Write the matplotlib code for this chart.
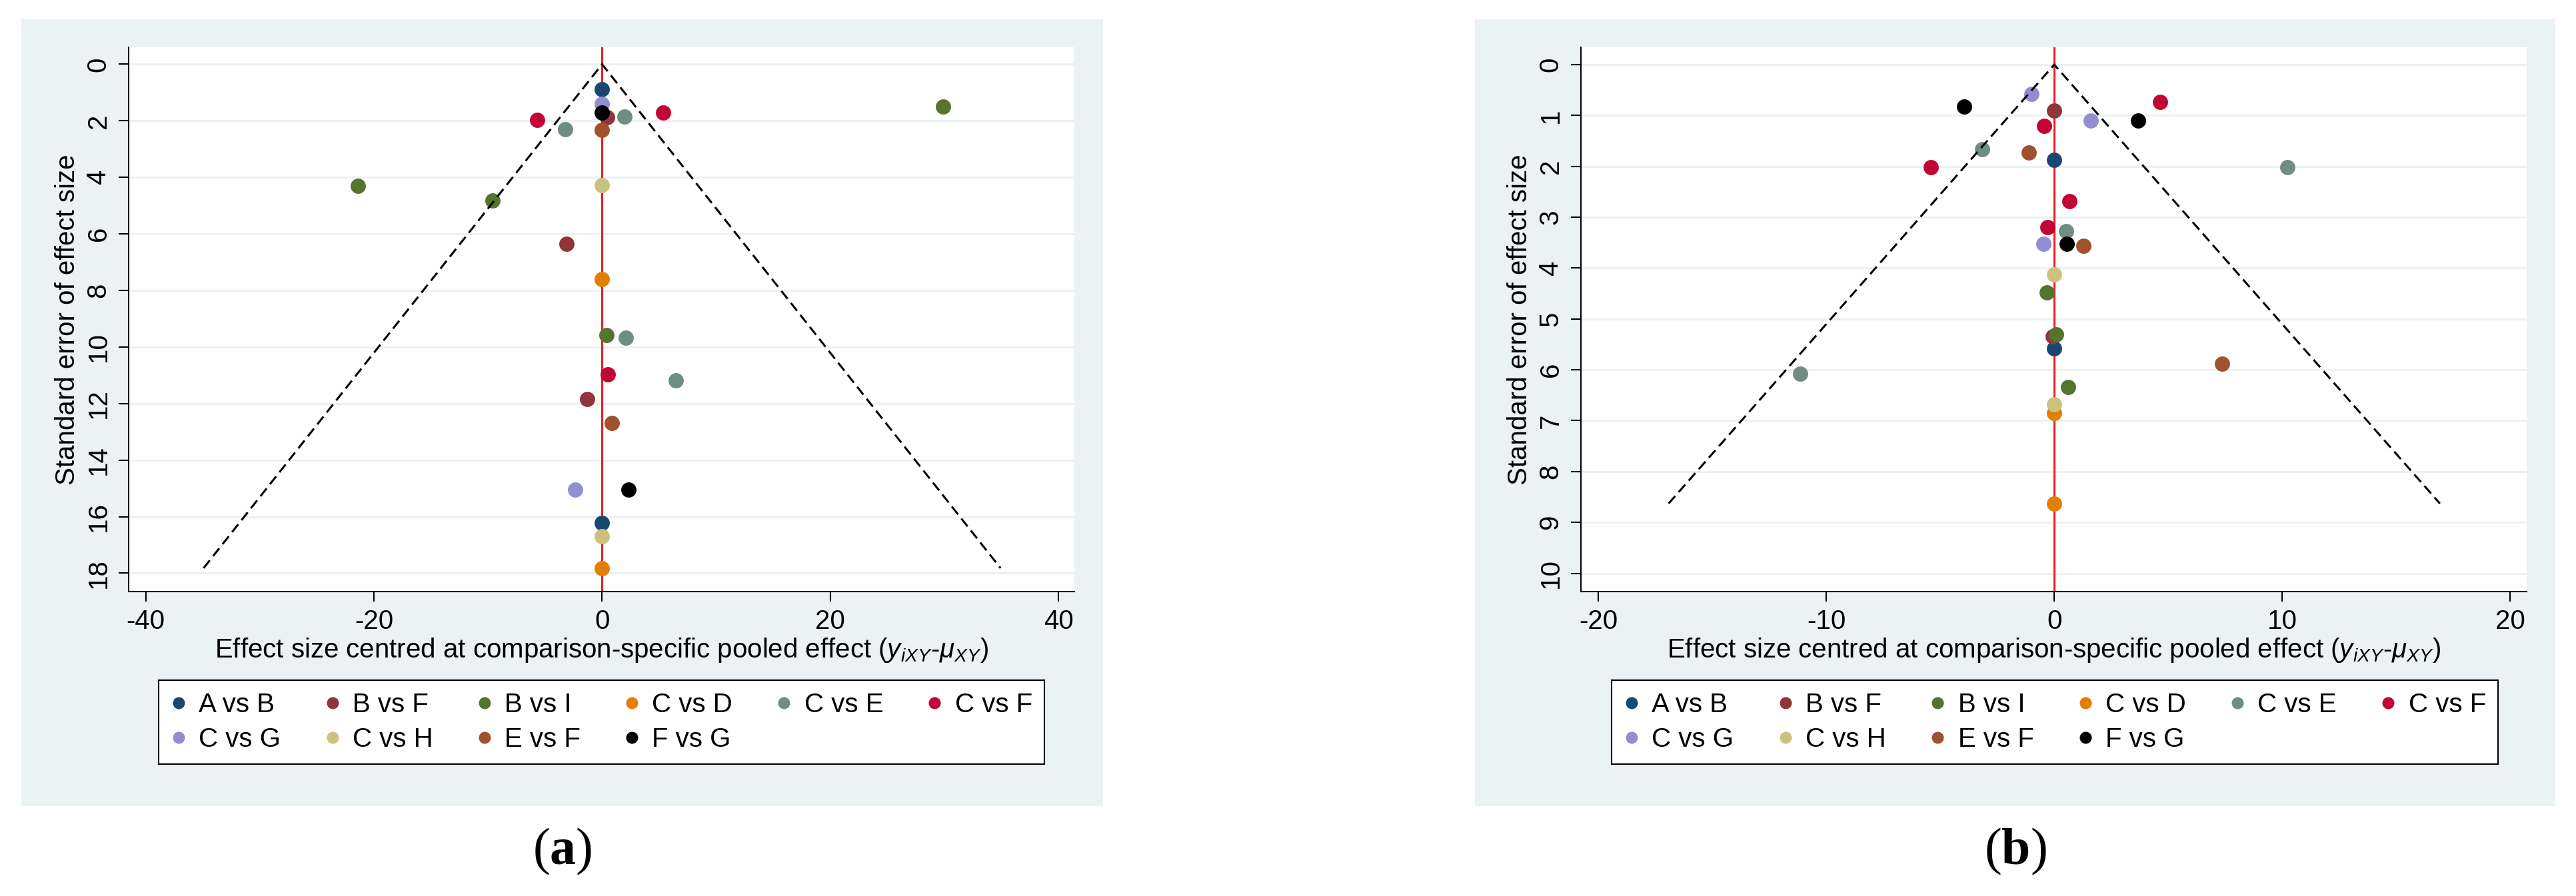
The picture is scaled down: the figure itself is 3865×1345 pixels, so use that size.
import numpy as np
import matplotlib
matplotlib.use("Agg")
import matplotlib.pyplot as plt
from matplotlib.lines import Line2D
from matplotlib.patches import Rectangle

plt.rcParams['font.family'] = ['Liberation Sans', 'DejaVu Sans']
plt.rcParams['mathtext.fontset'] = 'custom'
plt.rcParams['mathtext.rm'] = 'Liberation Sans'
plt.rcParams['mathtext.it'] = 'Liberation Sans:italic'
plt.rcParams['mathtext.bf'] = 'Liberation Serif:bold'

comparisons = ['A vs B', 'B vs F', 'B vs I', 'C vs D', 'C vs E',
               'C vs F', 'C vs G', 'C vs H', 'E vs F', 'F vs G']
colors = ['#1a476f', '#90353b', '#55752f', '#e37e00', '#6e8e84',
          '#c10534', '#938dd2', '#cac27e', '#a0522d', '#000000']

# panel (a): centred effect size (x) and standard error (y) per comparison
a_x = {
    'A vs B': [0.0, 0.0],
    'B vs F': [0.45, -3.1, -1.3],
    'B vs I': [29.9, -21.4, -9.6, 0.36],
    'C vs D': [0.0, 0.0],
    'C vs E': [1.95, -3.22, 2.09, 6.49],
    'C vs F': [5.36, -5.66, 0.5],
    'C vs G': [0.0, -2.38],
    'C vs H': [0.0, 0.0],
    'E vs F': [0.0, 0.86],
    'F vs G': [0.0, 2.31],
}
a_se = {
    'A vs B': [0.89, 16.22],
    'B vs F': [1.88, 6.35, 11.83],
    'B vs I': [1.50, 4.31, 4.83, 9.59],
    'C vs D': [7.60, 17.82],
    'C vs E': [1.86, 2.29, 9.67, 11.19],
    'C vs F': [1.72, 1.97, 10.98],
    'C vs G': [1.41, 15.05],
    'C vs H': [4.27, 16.69],
    'E vs F': [2.32, 12.70],
    'F vs G': [1.72, 15.05],
}

# panel (b)
b_x = {
    'A vs B': [0.0, 0.0],
    'B vs F': [0.0, -0.05],
    'B vs I': [-0.34, 0.08, 0.61],
    'C vs D': [0.0, 0.0],
    'C vs E': [-3.16, 10.23, 0.51, -11.14],
    'C vs F': [4.65, -0.44, -5.41, 0.66, -0.30],
    'C vs G': [-0.99, 1.60, -0.46],
    'C vs H': [0.0, 0.0],
    'E vs F': [-1.11, 1.29, 7.35],
    'F vs G': [-3.96, 3.68, 0.56],
}
b_se = {
    'A vs B': [1.87, 5.58],
    'B vs F': [0.90, 5.34],
    'B vs I': [4.48, 5.30, 6.34],
    'C vs D': [6.85, 8.63],
    'C vs E': [1.67, 2.02, 3.27, 6.08],
    'C vs F': [0.73, 1.20, 2.02, 2.68, 3.19],
    'C vs G': [0.58, 1.10, 3.52],
    'C vs H': [4.13, 6.68],
    'E vs F': [1.73, 3.56, 5.88],
    'F vs G': [0.83, 1.10, 3.52],
}

a_xticks = [-40, -20, 0, 20, 40]
a_yticks = list(range(0, 19, 2))
b_xticks = [-20, -10, 0, 10, 20]
b_yticks = list(range(0, 11))

W, H = 3865, 1345
fig = plt.figure(figsize=(W / 100, H / 100), dpi=100)
fig.patch.set_facecolor('white')

BG = '#eaf2f3'
FS = 29

def fx(px):
    return px / W

def fy(py):
    return 1 - py / H

# legend fills column by column; this order gives the row-wise layout
leg_order = [0, 6, 1, 7, 2, 8, 3, 9, 4, 5]

def panel(xs, ses, xticks, yticks, xlim, ylim, box, plot, leg, tag):
    bx0, bx1 = box
    fig.patches.append(Rectangle((fx(bx0), fy(1210)), fx(bx1 - bx0), (1210 - 29) / H,
                                 transform=fig.transFigure, facecolor=BG,
                                 edgecolor='none', zorder=-5))
    px0, px1 = plot
    ax = fig.add_axes([fx(px0), fy(888), fx(px1 - px0), (888 - 71) / H])
    ax.set_zorder(2)
    ax.set_facecolor('white')
    for s in ['top', 'right']:
        ax.spines[s].set_visible(False)
    for s in ['left', 'bottom']:
        ax.spines[s].set_linewidth(1.5)
    ax.set_xlim(*xlim)
    ax.set_ylim(*ylim)
    ax.set_xticks(xticks)
    ax.set_yticks(yticks)
    ax.set_xticklabels([str(t) for t in xticks])
    ax.set_yticklabels([str(t) for t in yticks], rotation=90, va='center')
    ax.tick_params(axis='both', length=11, width=1.5, labelsize=FS, pad=8)
    for t in yticks:
        ax.axhline(t, color=BG, lw=2.2, zorder=0.5)
    ax.axvline(0, color='#ee1c25', lw=2.2, zorder=1)

    for name, col in zip(comparisons, colors):
        ax.plot(xs[name], ses[name], 'o', color=col, markersize=16.5,
                markeredgewidth=0, zorder=2, linestyle='none')

    se_max = max(max(v) for v in ses.values())
    ax.plot([-1.96 * se_max, 0, 1.96 * se_max], [se_max, 0, se_max],
            color='black', lw=2.2, dashes=(4.9, 2.6), zorder=3)

    ax.set_ylabel('Standard error of effect size', fontsize=FS, labelpad=6)
    ax.set_xlabel(r'Effect size centred at comparison-specific pooled effect ($y_{iXY}$-$\mu_{XY}$)',
                  fontsize=FS, labelpad=2)

    handles = [Line2D([], [], marker='o', color=c, linestyle='none', markersize=13,
                      markeredgewidth=0) for c in colors]
    lx0, lx1 = leg
    lg = fig.legend([handles[i] for i in leg_order], [comparisons[i] for i in leg_order],
                    ncol=6, mode='expand', loc='upper left',
                    bbox_to_anchor=(fx(lx0), fy(1021), fx(lx1 - lx0), 0.0),
                    fontsize=FS, frameon=True, fancybox=False, edgecolor='black',
                    framealpha=1, borderpad=0.45, labelspacing=0.35,
                    handlelength=0.6, handletextpad=0.45, borderaxespad=0.0)
    lg.get_frame().set_linewidth(1.5)
    lg.set_zorder(3)

    fig.text(fx((bx0 + bx1) / 2), fy(1278), r'($\mathbf{' + tag + '}$)',
             family='Liberation Serif', fontsize=56, ha='center', va='center')
    return ax

panel(a_x, a_se, a_xticks, a_yticks, (-41.5, 41.4), (18.65, -0.6),
      (32, 1655), (193, 1612), (238, 1567), 'a')
panel(b_x, b_se, b_xticks, b_yticks, (-20.76, 20.72), (10.36, -0.34),
      (2213, 3834), (2372, 3791), (2418, 3748), 'b')

fig.savefig('out.png', dpi=100, facecolor='white')
